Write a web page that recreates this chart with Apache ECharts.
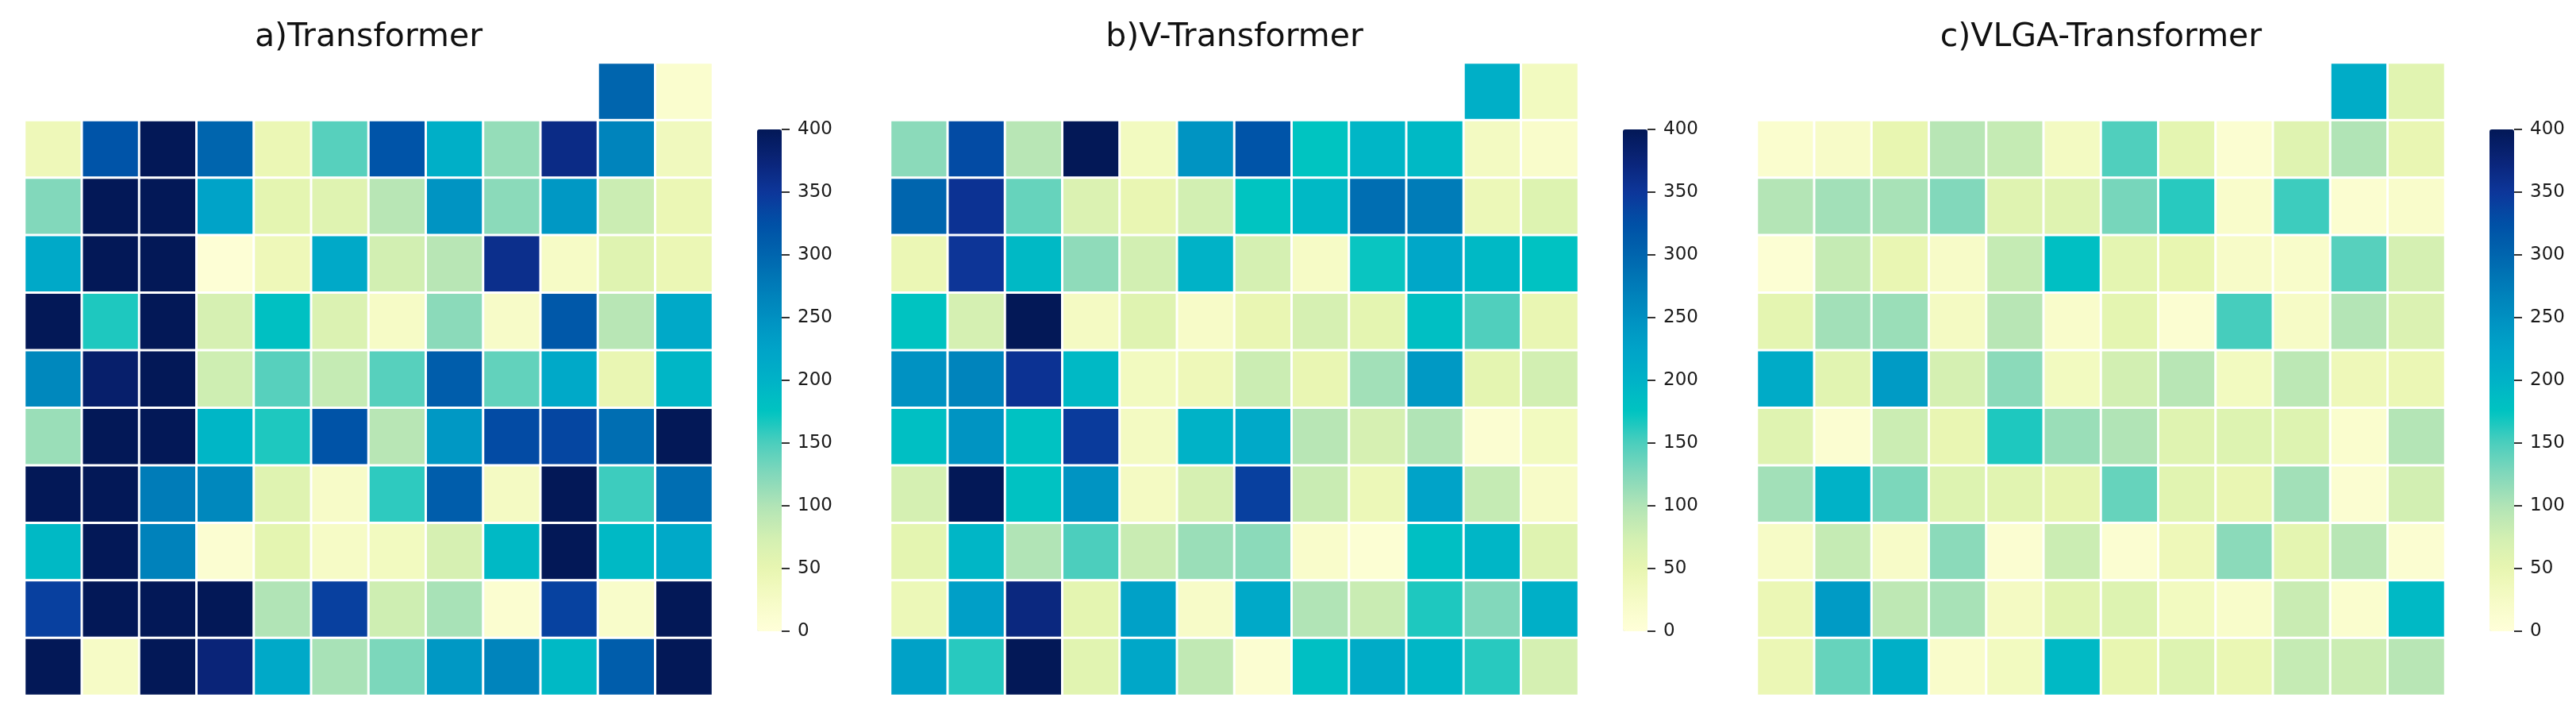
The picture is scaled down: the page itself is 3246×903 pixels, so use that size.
<!DOCTYPE html>
<html>
<head>
<meta charset="utf-8">
<script src="https://cdn.jsdelivr.net/npm/echarts@6/dist/echarts.min.js"></script>
<style>
  html, body { margin: 0; padding: 0; background: #fff; }
  #chart { width: 3246px; height: 903px; }
</style>
</head>
<body>
<div id="chart"></div>
<script>
// column / row categories (row 0 is the partial top row)
const cols = ['0', '1', '2', '3', '4', '5', '6', '7', '8', '9', '10', '11'];
const rows = ['0', '1', '2', '3', '4', '5', '6', '7', '8', '9', '10'];
const barTicks = [0, 50, 100, 150, 200, 250, 300, 350, 400];
const titles = ['a)Transformer', 'b)V-Transformer', 'c)VLGA-Transformer'];

const transformerVals = [
  [null, null, null, null, null, null, null, null, null, null, 300, 15],
  [40, 320, 400, 300, 45, 145, 320, 205, 115, 365, 265, 35],
  [125, 400, 400, 225, 55, 60, 95, 245, 120, 240, 80, 45],
  [215, 400, 400, 5, 40, 215, 75, 95, 360, 25, 60, 45],
  [400, 165, 400, 70, 180, 65, 25, 120, 22, 315, 95, 215],
  [260, 385, 400, 78, 145, 85, 145, 310, 140, 215, 48, 195],
  [112, 400, 400, 195, 165, 322, 95, 240, 330, 335, 290, 400],
  [400, 400, 275, 260, 60, 22, 160, 310, 28, 400, 155, 290],
  [190, 400, 268, 10, 55, 25, 32, 70, 190, 400, 190, 215],
  [340, 400, 400, 400, 100, 340, 78, 105, 12, 338, 20, 400],
  [400, 25, 400, 375, 215, 105, 128, 240, 265, 190, 310, 400]
];

const vTransformerVals = [
  [null, null, null, null, null, null, null, null, null, null, 205, 32],
  [120, 330, 95, 400, 32, 245, 320, 175, 195, 190, 30, 18],
  [300, 355, 138, 65, 48, 75, 175, 190, 290, 275, 42, 62],
  [45, 352, 190, 118, 75, 200, 72, 25, 172, 218, 190, 178],
  [176, 72, 400, 28, 60, 22, 48, 70, 55, 182, 148, 48],
  [248, 265, 355, 190, 32, 40, 80, 48, 108, 238, 55, 75],
  [182, 245, 178, 345, 30, 200, 215, 95, 70, 100, 10, 32],
  [72, 400, 178, 245, 28, 70, 340, 82, 42, 225, 85, 22],
  [55, 195, 100, 150, 82, 112, 120, 18, 8, 182, 195, 60],
  [42, 230, 370, 55, 228, 22, 215, 100, 82, 165, 125, 205],
  [228, 162, 400, 58, 218, 88, 10, 182, 212, 195, 162, 72]
];

const vlgaTransformerVals = [
  [null, null, null, null, null, null, null, null, null, null, 210, 58],
  [15, 22, 50, 95, 85, 30, 148, 55, 10, 60, 100, 48],
  [98, 108, 105, 125, 60, 60, 130, 162, 18, 155, 12, 18],
  [8, 85, 48, 22, 85, 182, 55, 50, 22, 20, 145, 72],
  [55, 108, 112, 28, 95, 18, 55, 10, 152, 25, 98, 65],
  [212, 58, 235, 72, 120, 32, 75, 95, 32, 92, 40, 45],
  [60, 10, 80, 48, 165, 112, 100, 60, 62, 62, 15, 98],
  [108, 200, 128, 62, 58, 52, 138, 58, 48, 108, 10, 75],
  [25, 85, 22, 120, 10, 80, 10, 40, 120, 55, 95, 10],
  [45, 235, 90, 105, 28, 58, 62, 32, 20, 82, 15, 190],
  [45, 138, 205, 18, 32, 190, 50, 62, 46, 85, 80, 95]
];

const panels = [transformerVals, vTransformerVals, vlgaTransformerVals];

// YlGnBu-like ramp as it appears in the picture, stops every 25 units
const ylGnBu = [
  '#ffffd9', '#f6fbc6', '#e8f6b1', '#d2efb2', '#b1e4b6', '#82d8bb',
  '#4ccebd', '#00c4c1', '#00b2c7', '#00a3c8', '#0090c1', '#007cb8',
  '#0065ae', '#0050a6', '#0d369a', '#0a2478', '#031857'
];

const FONT = 'DejaVu Sans';
const panelLeft = [31, 1122, 2214];
const gridTop = 79;
const gridW = 867;
const gridH = 797;
const barOffset = 923;   // colorbar left relative to panel left
const barTop = 163;
const barH = 632;
const barW = 31;

const toCells = (m) => {
  const out = [];
  m.forEach((row, r) => {
    row.forEach((v, c) => {
      if (v !== null) out.push([c, r, v]);
    });
  });
  return out;
};

const grid = [];
const xAxis = [];
const yAxis = [];
const series = [];
const visualMap = [];
const title = [];

panels.forEach((m, i) => {
  const left = panelLeft[i];
  // heatmap grid
  grid.push({ left, top: gridTop, width: gridW, height: gridH });
  xAxis.push({ type: 'category', data: cols, gridIndex: i * 2, show: false });
  yAxis.push({ type: 'category', data: rows, gridIndex: i * 2, inverse: true, show: false });
  // colorbar axis grid (ticks + labels only, gradient comes from visualMap)
  grid.push({ left: left + barOffset, top: barTop, width: barW, height: barH });
  xAxis.push({ type: 'category', data: [''], gridIndex: i * 2 + 1, show: false });
  yAxis.push({
    type: 'value',
    gridIndex: i * 2 + 1,
    position: 'right',
    min: barTicks[0],
    max: barTicks[barTicks.length - 1],
    interval: 50,
    axisLine: { show: true, onZero: false, lineStyle: { color: 'rgba(0,0,0,0)', width: 1 } },
    axisTick: { show: true, inside: false, length: 10, lineStyle: { color: '#333', width: 2 } },
    splitLine: { show: false },
    axisLabel: { margin: 20, fontSize: 23, color: '#1a1a1a', fontFamily: FONT }
  });

  series.push({
    type: 'heatmap',
    xAxisIndex: i * 2,
    yAxisIndex: i * 2,
    data: toCells(m),
    itemStyle: { borderColor: '#ffffff', borderWidth: 3 },
    emphasis: { disabled: true },
    silent: true
  });

  visualMap.push({
    type: 'continuous',
    seriesIndex: i,
    min: 0,
    max: 400,
    orient: 'vertical',
    left: left + barOffset,
    top: barTop,
    itemWidth: barW,
    itemHeight: barH,
    padding: 0,
    calculable: false,
    hoverLink: false,
    indicatorSize: 0,
    inRange: { color: ylGnBu }
  });

  title.push({
    text: titles[i],
    left: left + gridW / 2,
    textAlign: 'center',
    top: 27,
    padding: 0,
    textStyle: { fontSize: 41, fontWeight: 'normal', color: '#111', fontFamily: FONT }
  });
});

const chart = echarts.init(document.getElementById('chart'), null, { renderer: 'canvas' });
chart.setOption({
  backgroundColor: '#ffffff',
  animation: false,
  title,
  grid,
  xAxis,
  yAxis,
  visualMap,
  series
});
</script>
</body>
</html>
